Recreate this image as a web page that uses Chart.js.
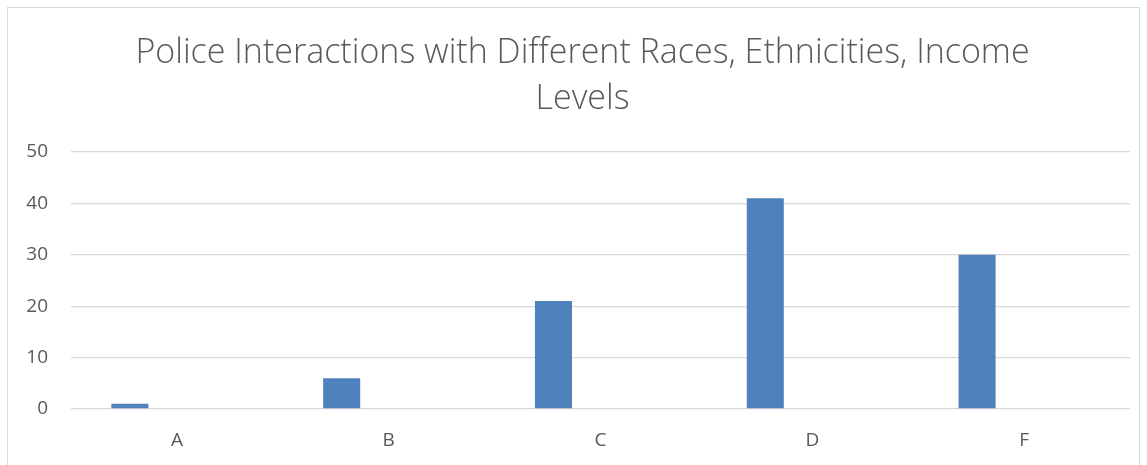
<!DOCTYPE html>
<html>
<head>
<meta charset="utf-8">
<script src="https://cdn.jsdelivr.net/npm/chart.js@4/dist/chart.umd.min.js"></script>
<style>
  html, body { margin: 0; padding: 0; background: #fff; }
  #wrap { position: relative; width: 1147px; height: 465px; overflow: hidden; }
  #frame { position: absolute; left: 7px; top: 7px; width: 1133px; height: 470px; border: 1px solid #d9d9d9; box-sizing: border-box; }
  canvas { position: absolute; left: 0; top: 0; }
  #title { position: absolute; left: 0; top: 27px; width: 1165px; text-align: center;
           font-family: 'Open Sans', 'Liberation Sans', sans-serif; font-weight: 300;
           font-size: 34px; line-height: 46px; color: #595959; }
</style>
</head>
<body>
<div id="wrap">
  <div id="frame"></div>
  <canvas id="c" width="1147" height="465"></canvas>
  <div id="title"></div>
</div>
<script>
const categories = ['A', 'B', 'C', 'D', 'F'];
const interactions = [1, 6, 21, 41, 30];
const emptySeries = [null, null, null, null, null];
const yTicks = [0, 10, 20, 30, 40, 50];
const titleLines = ['Police Interactions with Different Races, Ethnicities, Income', 'Levels'];

const textColor = '#595959';
const fontFamily = "'Open Sans', 'Liberation Sans', sans-serif";

const titleEl = document.getElementById('title');
titleLines.forEach((line) => {
  const d = document.createElement('div');
  d.textContent = line;
  titleEl.appendChild(d);
});

new Chart(document.getElementById('c'), {
  type: 'bar',
  data: {
    labels: categories,
    datasets: [
      { label: 'Series1', data: interactions, backgroundColor: '#4f81bd', borderWidth: 0,
        categoryPercentage: 0.888, barPercentage: 0.394 },
      { label: 'Series2', data: emptySeries, backgroundColor: '#c0504d', borderWidth: 0,
        categoryPercentage: 0.888, barPercentage: 0.394 }
    ]
  },
  options: {
    responsive: false,
    animation: false,
    devicePixelRatio: 1,
    layout: { padding: { left: 0, right: 17, top: 152, bottom: 0 } },
    plugins: {
      legend: { display: false },
      tooltip: { enabled: false },
      title: { display: false }
    },
    scales: {
      x: {
        grid: { display: false, drawTicks: false },
        border: { display: false },
        ticks: { color: textColor, font: { family: fontFamily, size: 19 }, padding: 20 },
        afterFit: (s) => { s.height = 56; }
      },
      y: {
        min: 0,
        max: 50,
        afterBuildTicks: (s) => { s.ticks = yTicks.map(v => ({ value: v })); },
        grid: { color: '#d9d9d9', lineWidth: 1.3, drawTicks: false },
        border: { display: false },
        ticks: { color: textColor, font: { family: fontFamily, size: 19 }, padding: 23 },
        afterFit: (s) => { s.width = 71; }
      }
    }
  }
});
</script>
</body>
</html>
